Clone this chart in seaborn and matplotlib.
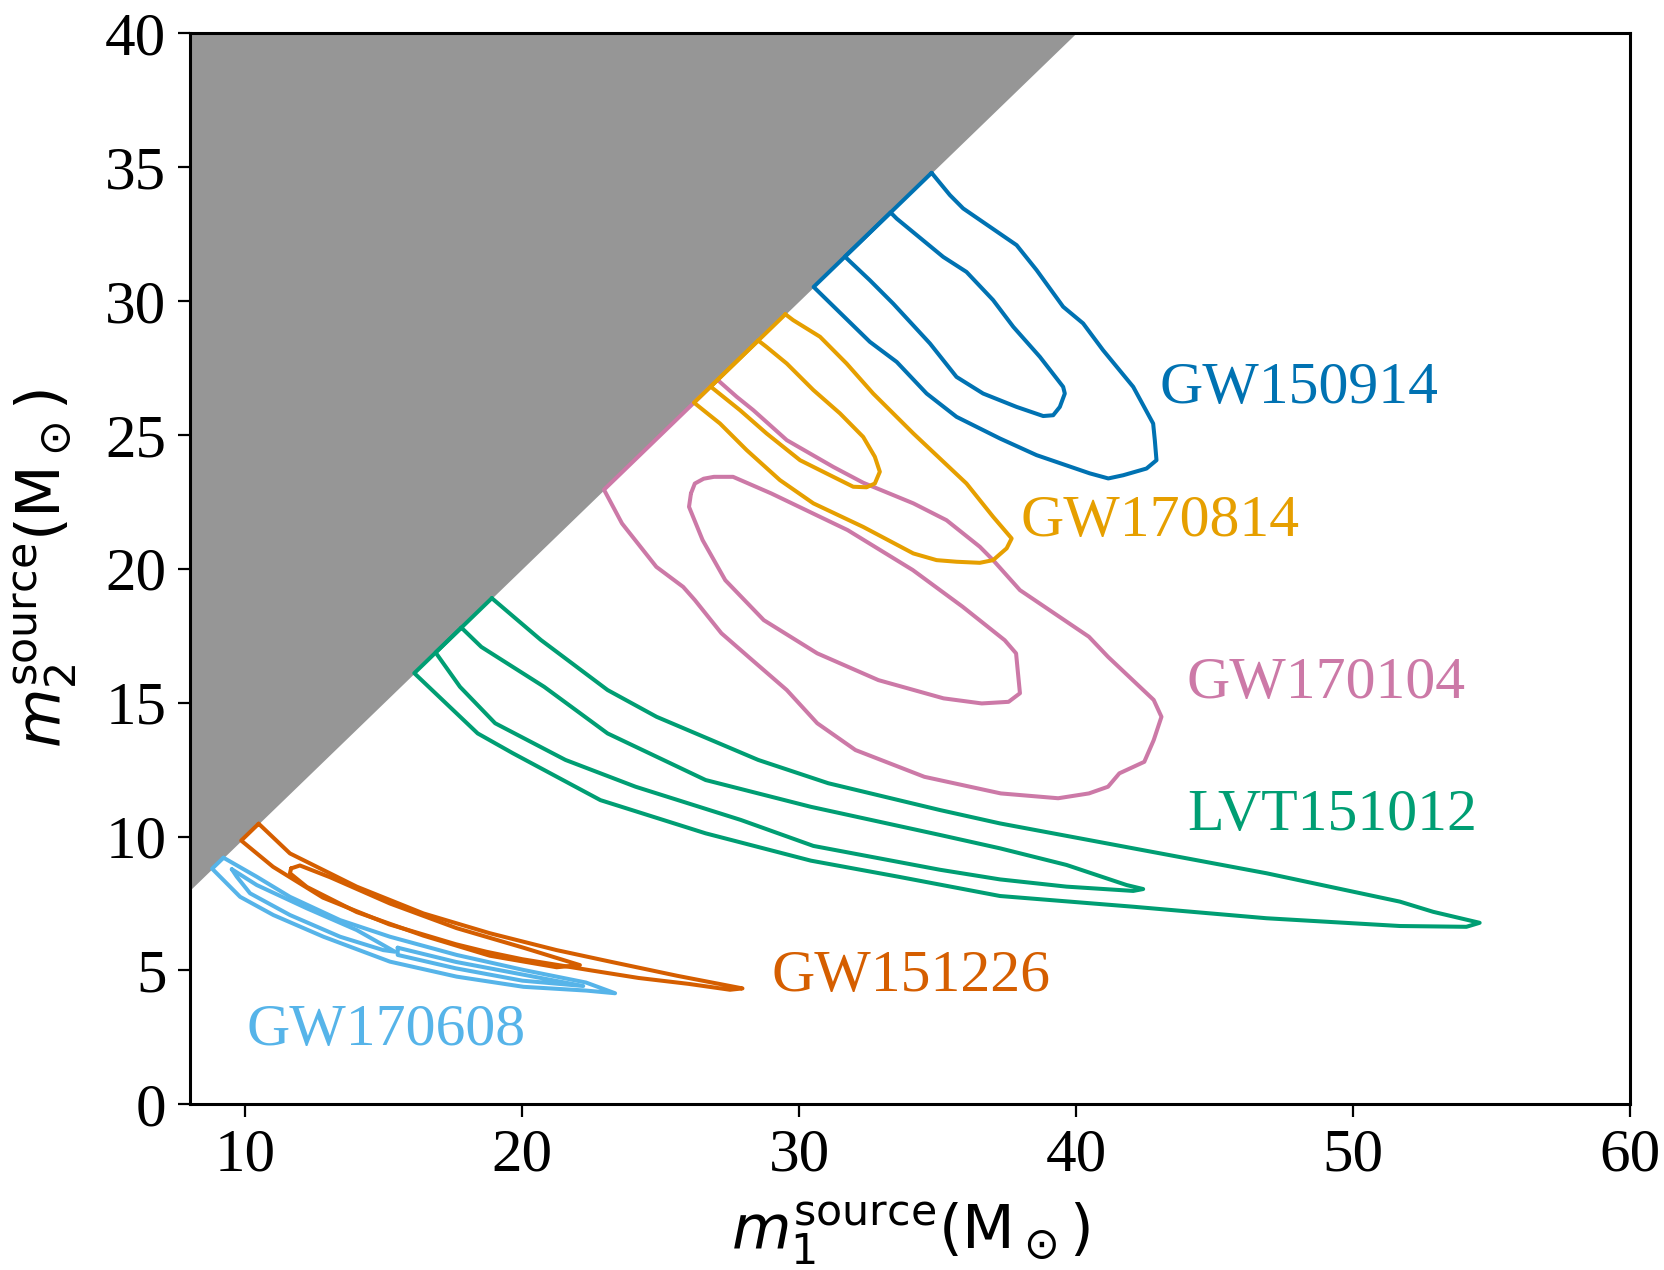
import matplotlib
matplotlib.use("Agg")
import matplotlib.pyplot as plt
import seaborn as sns

# --- credible-region contours in the (m1, m2) source-frame mass plane ---
# each contour is a closed outline; points on m2 = m1 are where it is cut
gw150914_90_m1 = [34.78, 35.44, 35.92, 37.85, 38.57, 39.53, 40.25, 40.97, 42.06, 42.78, 42.84, 42.90,
                  42.54, 41.70, 41.16, 40.49, 38.57, 37.25, 35.68, 34.60, 33.52, 32.55, 30.52]
gw150914_90_m2 = [34.78, 33.95, 33.45, 32.08, 31.15, 29.78, 29.16, 28.16, 26.79, 25.42, 24.80, 24.05,
                  23.74, 23.49, 23.37, 23.56, 24.24, 24.86, 25.67, 26.54, 27.72, 28.47, 30.52]
gw150914_50_m1 = [33.30, 33.52, 35.20, 36.04, 37.00, 37.73, 38.69, 39.53, 39.59, 39.41, 39.17, 38.81,
                  37.85, 36.64, 35.68, 34.72, 33.39, 32.55, 31.65]
gw150914_50_m2 = [33.30, 33.07, 31.64, 31.08, 30.03, 29.03, 27.91, 26.79, 26.54, 26.04, 25.73, 25.70,
                  26.04, 26.54, 27.16, 28.41, 29.90, 30.77, 31.65]

gw170814_90_m1 = [29.50, 29.78, 30.75, 31.71, 32.67, 34.12, 36.04, 37.00, 37.67, 37.49, 37.00, 36.52,
                  35.68, 34.96, 34.12, 32.31, 30.51, 29.30, 28.10, 27.14, 26.20]
gw170814_90_m2 = [29.50, 29.28, 28.66, 27.66, 26.54, 25.05, 23.18, 21.94, 21.13, 20.76, 20.32, 20.22,
                  20.26, 20.32, 20.57, 21.56, 22.44, 23.31, 24.43, 25.42, 26.20]
gw170814_50_m1 = [28.52, 28.82, 29.55, 30.51, 31.47, 32.31, 32.73, 32.91, 32.73, 32.43, 31.95, 31.23,
                  30.03, 28.82, 27.86, 26.80]
gw170814_50_m2 = [28.52, 28.28, 27.66, 26.67, 25.80, 24.92, 24.18, 23.62, 23.18, 23.04, 23.06, 23.43,
                  24.05, 25.05, 25.92, 26.80]

gw170104_90_m1 = [27.05, 27.74, 28.34, 29.55, 31.23, 32.31, 34.12, 35.32, 36.52, 37.00, 37.97, 40.46,
                  41.15, 42.80, 43.08, 42.80, 42.46, 41.56, 41.15, 40.46, 39.35, 37.28, 34.52, 32.03,
                  30.65, 29.55, 28.30, 27.19, 26.23, 25.81, 24.84, 23.60, 22.95]
gw170104_90_m2 = [27.05, 26.42, 25.92, 24.80, 23.80, 23.21, 22.44, 21.81, 20.82, 20.32, 19.20, 17.46,
                  16.71, 15.10, 14.47, 13.60, 12.79, 12.36, 11.86, 11.61, 11.43, 11.61, 12.23, 13.23,
                  14.23, 15.47, 16.59, 17.59, 18.83, 19.32, 20.07, 21.69, 22.95]
gw170104_50_m1 = [26.09, 26.23, 26.55, 26.92, 27.61, 28.99, 31.75, 34.10, 35.90, 37.42, 37.83, 37.90,
                  37.97, 37.56, 36.59, 35.21, 32.86, 30.65, 28.72, 27.33, 26.51, 26.02]
gw170104_50_m2 = [22.81, 23.18, 23.36, 23.43, 23.43, 22.81, 21.44, 19.95, 18.58, 17.33, 16.84, 16.09,
                  15.35, 15.03, 14.97, 15.16, 15.84, 16.84, 18.08, 19.57, 21.07, 22.31]

lvt151012_90_m1 = [18.90, 20.67, 23.08, 24.85, 28.52, 31.05, 35.08, 37.25, 42.06, 46.87, 51.69, 52.89,
                   54.57, 54.09, 51.69, 46.87, 42.06, 37.25, 33.58, 30.42, 26.62, 22.82, 19.66, 18.39,
                   16.10]
lvt151012_90_m2 = [18.90, 17.34, 15.47, 14.47, 12.86, 11.99, 10.99, 10.49, 9.56, 8.63, 7.57, 7.19,
                   6.78, 6.63, 6.66, 6.95, 7.38, 7.78, 8.50, 9.10, 10.12, 11.36, 13.11, 13.85,
                   16.10]
lvt151012_50_m1 = [17.80, 18.52, 20.79, 23.08, 26.62, 30.42, 35.08, 37.25, 39.65, 41.82, 42.42, 42.06,
                   39.65, 37.25, 35.08, 30.51, 27.89, 24.09, 21.56, 19.02, 17.75, 16.87]
lvt151012_50_m2 = [17.80, 17.08, 15.59, 13.85, 12.11, 11.11, 10.06, 9.56, 8.94, 8.19, 8.04, 7.97,
                   8.13, 8.40, 8.76, 9.65, 10.62, 11.86, 12.86, 14.23, 15.59, 16.87]

gw151226_90_m1 = [10.48, 11.61, 14.02, 16.43, 18.83, 21.24, 23.17, 25.60, 27.95, 27.50, 26.00, 24.20,
                  22.50, 20.00, 18.70, 17.60, 15.20, 12.80, 11.00, 9.85]
gw151226_90_m2 = [10.48, 9.37, 8.13, 7.13, 6.39, 5.76, 5.33, 4.80, 4.33, 4.28, 4.50, 4.72,
                  5.00, 5.42, 5.70, 5.98, 6.72, 7.72, 8.87, 9.85]
gw151226_50_m1 = [11.65, 11.97, 13.06, 15.22, 17.63, 20.04, 22.08, 21.24, 18.83, 16.43, 14.02, 12.22, 11.61]
gw151226_50_m2 = [8.81, 8.92, 8.48, 7.50, 6.58, 5.85, 5.20, 5.12, 5.55, 6.30, 7.18, 8.12, 8.63]

gw170608_90_m1 = [9.21, 10.41, 11.61, 13.42, 15.22, 17.63, 20.04, 22.30, 23.35, 22.30, 20.04, 17.63,
                  15.22, 12.82, 11.01, 9.81, 8.80]
gw170608_90_m2 = [9.21, 8.50, 7.75, 6.88, 6.26, 5.58, 5.02, 4.55, 4.15, 4.25, 4.39, 4.77,
                  5.33, 6.26, 7.07, 7.75, 8.80]
gw170608_50a_m1 = [9.51, 10.41, 12.22, 14.02, 15.40, 14.98, 13.42, 11.61, 10.17, 9.69]
gw170608_50a_m2 = [8.78, 8.19, 7.32, 6.51, 5.70, 5.76, 6.26, 7.07, 7.88, 8.50]
gw170608_50b_m1 = [15.50, 17.60, 20.00, 22.20, 20.00, 17.60, 15.50]
gw170608_50b_m2 = [5.85, 5.32, 4.85, 4.42, 4.62, 5.08, 5.58]

# event names, colours and label anchor points (m1, m2)
events = ["GW150914", "GW170814", "GW170104", "LVT151012", "GW151226", "GW170608"]
event_colors = ["#0072B2", "#E69F00", "#CC79A7", "#009E73", "#D55E00", "#56B4E9"]
label_m1 = [43.0, 38.0, 44.0, 44.0, 29.0, 10.05]
label_m2 = [26.7, 21.75, 15.7, 10.75, 4.75, 2.75]

# the m2 > m1 half of the plane is excluded
diag_m1 = [8, 40]
diag_m2 = [8, 40]

x_ticks = [10, 20, 30, 40, 50, 60]
y_ticks = [0, 5, 10, 15, 20, 25, 30, 35, 40]

contours = [
    ("LVT151012", lvt151012_90_m1, lvt151012_90_m2),
    ("LVT151012", lvt151012_50_m1, lvt151012_50_m2),
    ("GW170104", gw170104_90_m1, gw170104_90_m2),
    ("GW170104", gw170104_50_m1, gw170104_50_m2),
    ("GW170814", gw170814_90_m1, gw170814_90_m2),
    ("GW170814", gw170814_50_m1, gw170814_50_m2),
    ("GW150914", gw150914_90_m1, gw150914_90_m2),
    ("GW150914", gw150914_50_m1, gw150914_50_m2),
    ("GW151226", gw151226_90_m1, gw151226_90_m2),
    ("GW151226", gw151226_50_m1, gw151226_50_m2),
    ("GW170608", gw170608_90_m1, gw170608_90_m2),
    ("GW170608", gw170608_50a_m1, gw170608_50a_m2),
    ("GW170608", gw170608_50b_m1, gw170608_50b_m2),
]

sns.set_theme(style="ticks")
plt.rcParams["font.family"] = ["Liberation Serif", "DejaVu Serif"]
plt.rcParams["mathtext.fontset"] = "dejavusans"
plt.rcParams["text.color"] = "black"
plt.rcParams["axes.labelcolor"] = "black"
plt.rcParams["xtick.color"] = "black"
plt.rcParams["ytick.color"] = "black"

fig = plt.figure(figsize=(16.65, 12.7), dpi=100)
ax = fig.add_axes([0.1141, 0.1304, 0.8649, 0.8436])

color_of = dict(zip(events, event_colors))

ax.fill_between(diag_m1, diag_m2, 40, color="#969696", linewidth=0, zorder=1)

for name, m1, m2 in contours:
    xs = list(m1) + [m1[0]]
    ys = list(m2) + [m2[0]]
    sns.lineplot(x=xs, y=ys, sort=False, estimator=None, color=color_of[name],
                 linewidth=2.9, ax=ax, legend=False, zorder=3,
                 solid_joinstyle="round")

for name, c, lx, ly in zip(events, event_colors, label_m1, label_m2):
    ax.text(lx, ly, name, color=c, fontsize=43, ha="left", va="center", zorder=4)

ax.set_xlim(8, 60)
ax.set_ylim(0, 40)
ax.set_xticks(x_ticks)
ax.set_yticks(y_ticks)
ax.tick_params(axis="both", labelsize=44, length=9, width=1.6, direction="out",
               colors="black", pad=8)
for sp in ax.spines.values():
    sp.set_visible(True)
    sp.set_linewidth(2.2)
    sp.set_color("black")

ax.set_xlabel(r"$m_1^{\rm source}(\rm M_\odot)$", fontsize=44, labelpad=12)
ax.set_ylabel(r"$m_2^{\rm source}(\rm M_\odot)$", fontsize=44, labelpad=18)

fig.savefig("out.png", dpi=100)
